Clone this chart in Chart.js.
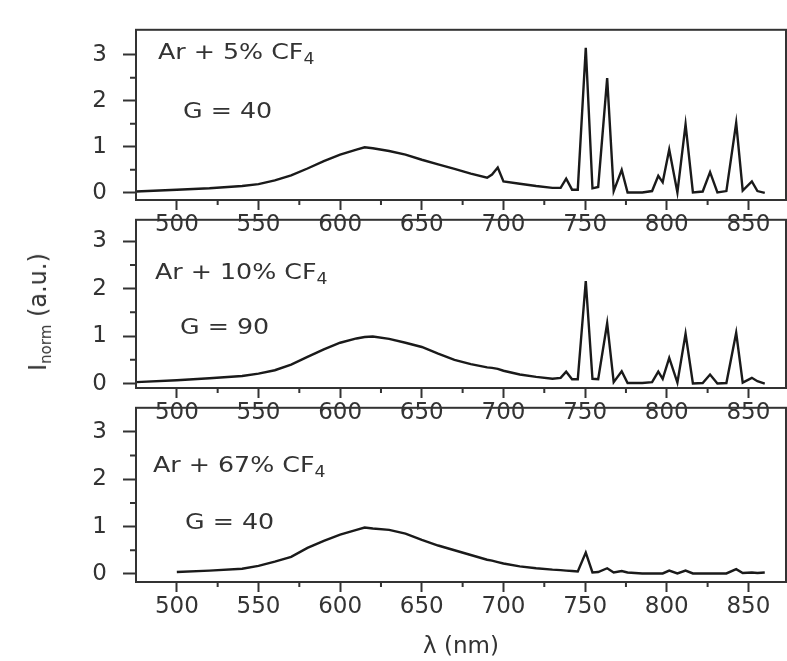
<!DOCTYPE html>
<html>
<head>
<meta charset="utf-8">
<script src="https://cdn.jsdelivr.net/npm/chart.js@4.4.1/dist/chart.umd.min.js"></script>
<style>
  body { margin: 0; background: #fff; width: 787px; height: 661px; position: relative; overflow: hidden;
         font-family: 'DejaVu Sans', sans-serif; color: #333; }
  .panel { position: absolute; left: 0; }
  .note { position: absolute; font-size: 22px; line-height: 1; white-space: nowrap; color: #333;
          transform: scaleX(1.15); transform-origin: left center; }
  .note sub { font-size: 15px; vertical-align: -5px; line-height: 0; }
  #ytitle { position: absolute; left: 38px; top: 312px; font-size: 24px; white-space: nowrap;
            transform: translate(-50%, -50%) rotate(-90deg); }
  #ytitle sub { font-size: 15px; vertical-align: -5px; line-height: 0; }
</style>
</head>
<body>
<canvas class="panel" id="c1" width="787" height="250" style="top:0px"></canvas>
<canvas class="panel" id="c2" width="787" height="250" style="top:190px"></canvas>
<canvas class="panel" id="c3" width="787" height="283" style="top:378px"></canvas>

<div class="note" style="left:158px; top:41px">Ar + 5% CF<sub>4</sub></div>
<div class="note" style="left:183px; top:100px">G = 40</div>
<div class="note" style="left:155px; top:261px">Ar + 10% CF<sub>4</sub></div>
<div class="note" style="left:180px; top:316px">G = 90</div>
<div class="note" style="left:153px; top:454px">Ar + 67% CF<sub>4</sub></div>
<div class="note" style="left:185px; top:511px">G = 40</div>
<div id="ytitle">I<sub>norm</sub> (a.u.)</div>

<script>
// longueurs d'onde (nm)
const wavelengths = [475, 500, 520, 540, 550, 560, 570, 580, 590, 600, 610, 615, 620, 630, 640, 650, 660, 670, 680, 690,
  693, 696.5, 700, 710, 720, 730, 735, 738.4, 742, 745.5, 750.4, 754.5, 758, 763.5, 767.5, 772.4, 776, 785, 791, 794.8,
  797.5, 801.5, 806.5, 811.5, 816, 822, 826.5, 831, 836.5, 842.5, 846.5, 852.1, 855.5, 860];

// Ar + 5% CF4, G = 40
const spec5 = [0.03, 0.07, 0.10, 0.15, 0.19, 0.27, 0.38, 0.53, 0.69, 0.83, 0.94, 0.99, 0.97, 0.91, 0.83, 0.72, 0.62, 0.52, 0.42, 0.33,
  0.40, 0.55, 0.25, 0.20, 0.15, 0.11, 0.11, 0.31, 0.07, 0.07, 3.15, 0.10, 0.13, 2.49, 0.04, 0.50, 0.01, 0.01, 0.04, 0.37,
  0.23, 0.94, 0.01, 1.49, 0.01, 0.03, 0.45, 0.01, 0.04, 1.52, 0.05, 0.25, 0.04, 0.0];

// Ar + 10% CF4, G = 90
const spec10 = [0.03, 0.07, 0.11, 0.16, 0.21, 0.28, 0.40, 0.56, 0.72, 0.86, 0.95, 0.98, 0.99, 0.94, 0.86, 0.77, 0.63, 0.50, 0.41, 0.34,
  0.33, 0.31, 0.27, 0.19, 0.14, 0.10, 0.12, 0.25, 0.09, 0.09, 2.16, 0.10, 0.09, 1.27, 0.03, 0.26, 0.01, 0.01, 0.03, 0.25,
  0.10, 0.54, 0.02, 1.05, 0.0, 0.01, 0.19, 0.0, 0.01, 1.07, 0.02, 0.12, 0.05, 0.0];

// Ar + 67% CF4, G = 40 (commence à 500 nm)
const spec67 = [null, 0.04, 0.07, 0.11, 0.17, 0.26, 0.36, 0.55, 0.70, 0.83, 0.93, 0.98, 0.96, 0.93, 0.85, 0.72, 0.60, 0.50, 0.40, 0.30,
  0.28, 0.25, 0.22, 0.16, 0.12, 0.09, 0.08, 0.07, 0.06, 0.05, 0.45, 0.03, 0.04, 0.12, 0.03, 0.06, 0.03, 0.01, 0.01, 0.01,
  0.01, 0.07, 0.01, 0.07, 0.01, 0.01, 0.01, 0.01, 0.01, 0.10, 0.02, 0.03, 0.02, 0.03];

const xMajorTicks = [500, 550, 600, 650, 700, 750, 800, 850];
const xMinorTicks = [525, 575, 625, 675, 725, 775, 825];
const yMajorTicks = [0, 1, 2, 3];
const yMinorTicks = [0.5, 1.5, 2.5];

const FONT = { family: "'DejaVu Sans', sans-serif", size: 23 };
const INK = '#333';

// cadre + petites graduations
const framePlugin = {
  id: 'frame',
  afterDraw(chart) {
    const { ctx, chartArea: a, scales } = chart;
    ctx.save();
    ctx.strokeStyle = INK;
    ctx.lineWidth = 2;
    ctx.strokeRect(a.left, a.top, a.right - a.left, a.bottom - a.top);
    ctx.beginPath();
    yMinorTicks.forEach(v => {
      const y = scales.y.getPixelForValue(v);
      ctx.moveTo(a.left - 6, y);
      ctx.lineTo(a.left, y);
    });
    xMinorTicks.forEach(v => {
      const x = scales.x.getPixelForValue(v);
      ctx.moveTo(x, a.bottom);
      ctx.lineTo(x, a.bottom + 5);
    });
    ctx.stroke();
    ctx.restore();
  }
};

function makePanel(id, values, yMin, yMax, padTop, xHeight, withTitle) {
  const points = [];
  wavelengths.forEach((w, i) => {
    if (values[i] !== null) points.push({ x: w, y: values[i] });
  });

  return new Chart(document.getElementById(id), {
    type: 'line',
    data: {
      datasets: [{
        data: points,
        borderColor: '#1a1a1a',
        borderWidth: 2.4,
        pointRadius: 0,
        tension: 0,
        fill: false
      }]
    },
    options: {
      responsive: false,
      animation: false,
      layout: { padding: { top: padTop, right: 1, bottom: 0, left: 0 } },
      plugins: { legend: { display: false }, tooltip: { enabled: false } },
      scales: {
        x: {
          type: 'linear',
          min: 475,
          max: 873,
          afterFit: s => { s.height = xHeight; },
          afterBuildTicks: s => { s.ticks = xMajorTicks.map(v => ({ value: v })); },
          border: { display: false },
          grid: { drawOnChartArea: false, drawTicks: true, tickLength: 10, tickColor: INK, tickWidth: 2 },
          ticks: { autoSkip: false, maxRotation: 0, padding: 1, color: INK, font: FONT },
          title: { display: withTitle, text: 'λ (nm)', color: INK, font: FONT, padding: 0 }
        },
        y: {
          min: yMin,
          max: yMax,
          afterFit: s => { s.width = 136; },
          afterBuildTicks: s => { s.ticks = yMajorTicks.map(v => ({ value: v })); },
          border: { display: false },
          grid: { drawOnChartArea: false, drawTicks: true, tickLength: 13, tickColor: INK, tickWidth: 2 },
          ticks: { padding: 16, color: INK, font: FONT }
        }
      }
    },
    plugins: [framePlugin]
  });
}

makePanel('c1', spec5, -0.154, 3.54, 8, 50, false);
makePanel('c2', spec10, -0.094, 3.45, 10, 52, false);
makePanel('c3', spec67, -0.171, 3.51, 10, 79, true);
</script>
</body>
</html>
